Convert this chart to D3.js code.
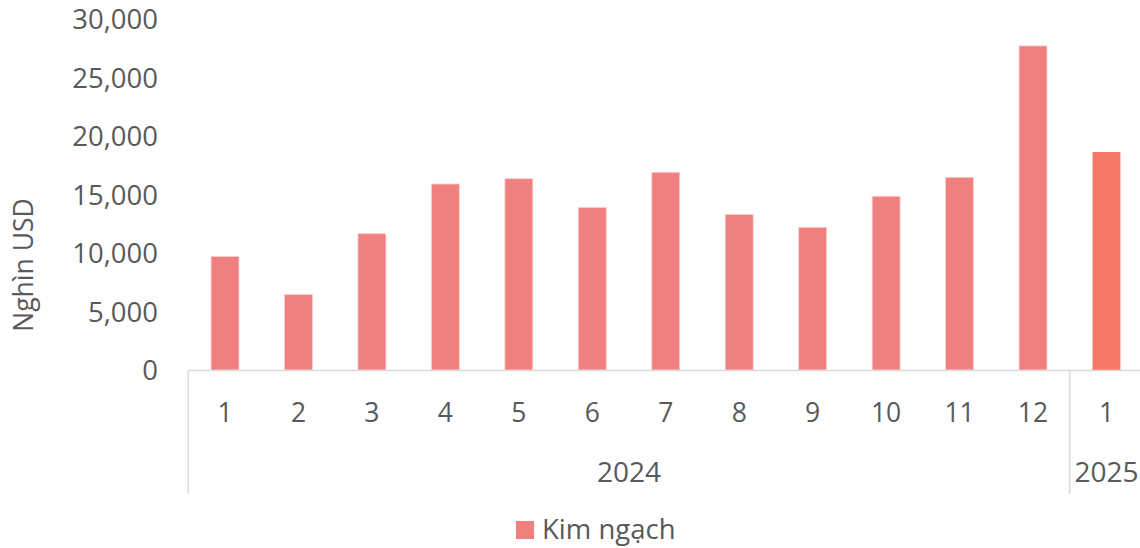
<!DOCTYPE html>
<html>
<head>
<meta charset="utf-8">
<script src="https://cdn.jsdelivr.net/npm/d3@7"></script>
<style>
  html, body { margin: 0; padding: 0; background: #fff; }
  svg text { font-family: "Open Sans", "Noto Sans", sans-serif; fill: #595959; }
</style>
</head>
<body>
<svg id="chart" width="1140" height="548"></svg>
<script>
const months = ["1","2","3","4","5","6","7","8","9","10","11","12","1"];
const years = ["2024","2024","2024","2024","2024","2024","2024","2024","2024","2024","2024","2024","2025"];
const values = [9700, 6450, 11650, 15900, 16350, 13900, 16900, 13300, 12200, 14850, 16470, 27700, 18630];
const yTicks = [0, 5000, 10000, 15000, 20000, 25000, 30000];
const seriesName = "Kim ngạch";
const yTitle = "Nghìn USD";

const svg = d3.select("#chart");
const plotLeft = 188.3, plotRight = 1143.2, plotTop = 19, plotBottom = 370;
const idx = months.map((d, i) => i);
const x = d3.scaleBand().domain(idx).range([plotLeft, plotRight]).paddingInner(0.62).paddingOuter(0.31);
const y = d3.scaleLinear().domain([0, 30000]).range([plotBottom, plotTop]);
const fmt = d3.format(",");

// y tick labels
const yAxis = d3.axisLeft(y).tickValues(yTicks).tickFormat(fmt).tickSize(0).tickPadding(0);
const ya = svg.append("g").attr("transform", `translate(158,0)`).call(yAxis);
ya.select(".domain").remove();
ya.selectAll("text").style("font-size", "27.5px").attr("fill", "#595959").attr("dy", "0.35em")
  .style("font-family", "'Open Sans', sans-serif");

// y title
svg.append("text")
  .attr("transform", `translate(33,265) rotate(-90)`)
  .attr("text-anchor", "middle")
  .style("font-size", "26.5px")
  .text(yTitle);

// bars
svg.append("g").selectAll("rect").data(values).join("rect")
  .attr("x", (d, i) => x(i))
  .attr("width", x.bandwidth())
  .attr("y", d => y(d))
  .attr("height", d => y(0) - y(d))
  .attr("fill", (d, i) => years[i] === "2025" ? "#f47866" : "#f08080")
  .attr("stroke", (d, i) => years[i] === "2025" ? "none" : "#fbd0d0")
  .attr("stroke-width", 0.8);

// x axis line
svg.append("line").attr("x1", plotLeft).attr("x2", 1140).attr("y1", plotBottom + 0.5).attr("y2", plotBottom + 0.5)
  .attr("stroke", "#d9d9d9").attr("stroke-width", 1.5);

// month labels via axis
const xAxis = d3.axisBottom(x).tickFormat(i => months[i]).tickSize(0).tickPadding(0);
const xa = svg.append("g").attr("transform", `translate(0,${plotBottom})`).call(xAxis);
xa.select(".domain").remove();
xa.selectAll("text").attr("dy", null).attr("y", 52).style("font-size", "26.5px").attr("fill", "#595959")
  .style("font-family", "'Open Sans', sans-serif");

// year groups
const groups = [];
years.forEach((yr, i) => {
  const g = groups.find(g => g.year === yr);
  if (g) g.end = i; else groups.push({ year: yr, start: i, end: i });
});
const step = x.step();
const bounds = groups.map(g => ({
  year: g.year,
  x0: x(g.start) - (step - x.bandwidth()) / 2,
  x1: x(g.end) + x.bandwidth() + (step - x.bandwidth()) / 2
}));
// separators
const seps = [bounds[0].x0].concat(bounds.slice(0, -1).map(b => b.x1));
svg.append("g").selectAll("line").data(seps).join("line")
  .attr("x1", d => d).attr("x2", d => d).attr("y1", plotBottom).attr("y2", 494)
  .attr("stroke", "#d9d9d9").attr("stroke-width", 1.5);
svg.append("g").selectAll("text").data(bounds).join("text")
  .attr("x", d => d.year === "2025" ? x(12) + x.bandwidth() / 2 : (d.x0 + d.x1) / 2)
  .attr("y", 482)
  .attr("text-anchor", "middle")
  .style("font-size", "28px")
  .text(d => d.year);

// legend
svg.append("rect").attr("x", 516).attr("y", 521).attr("width", 18).attr("height", 18).attr("fill", "#f08080");
svg.append("text").attr("x", 542).attr("y", 539).style("font-size", "27.5px").text(seriesName);
</script>
</body>
</html>
